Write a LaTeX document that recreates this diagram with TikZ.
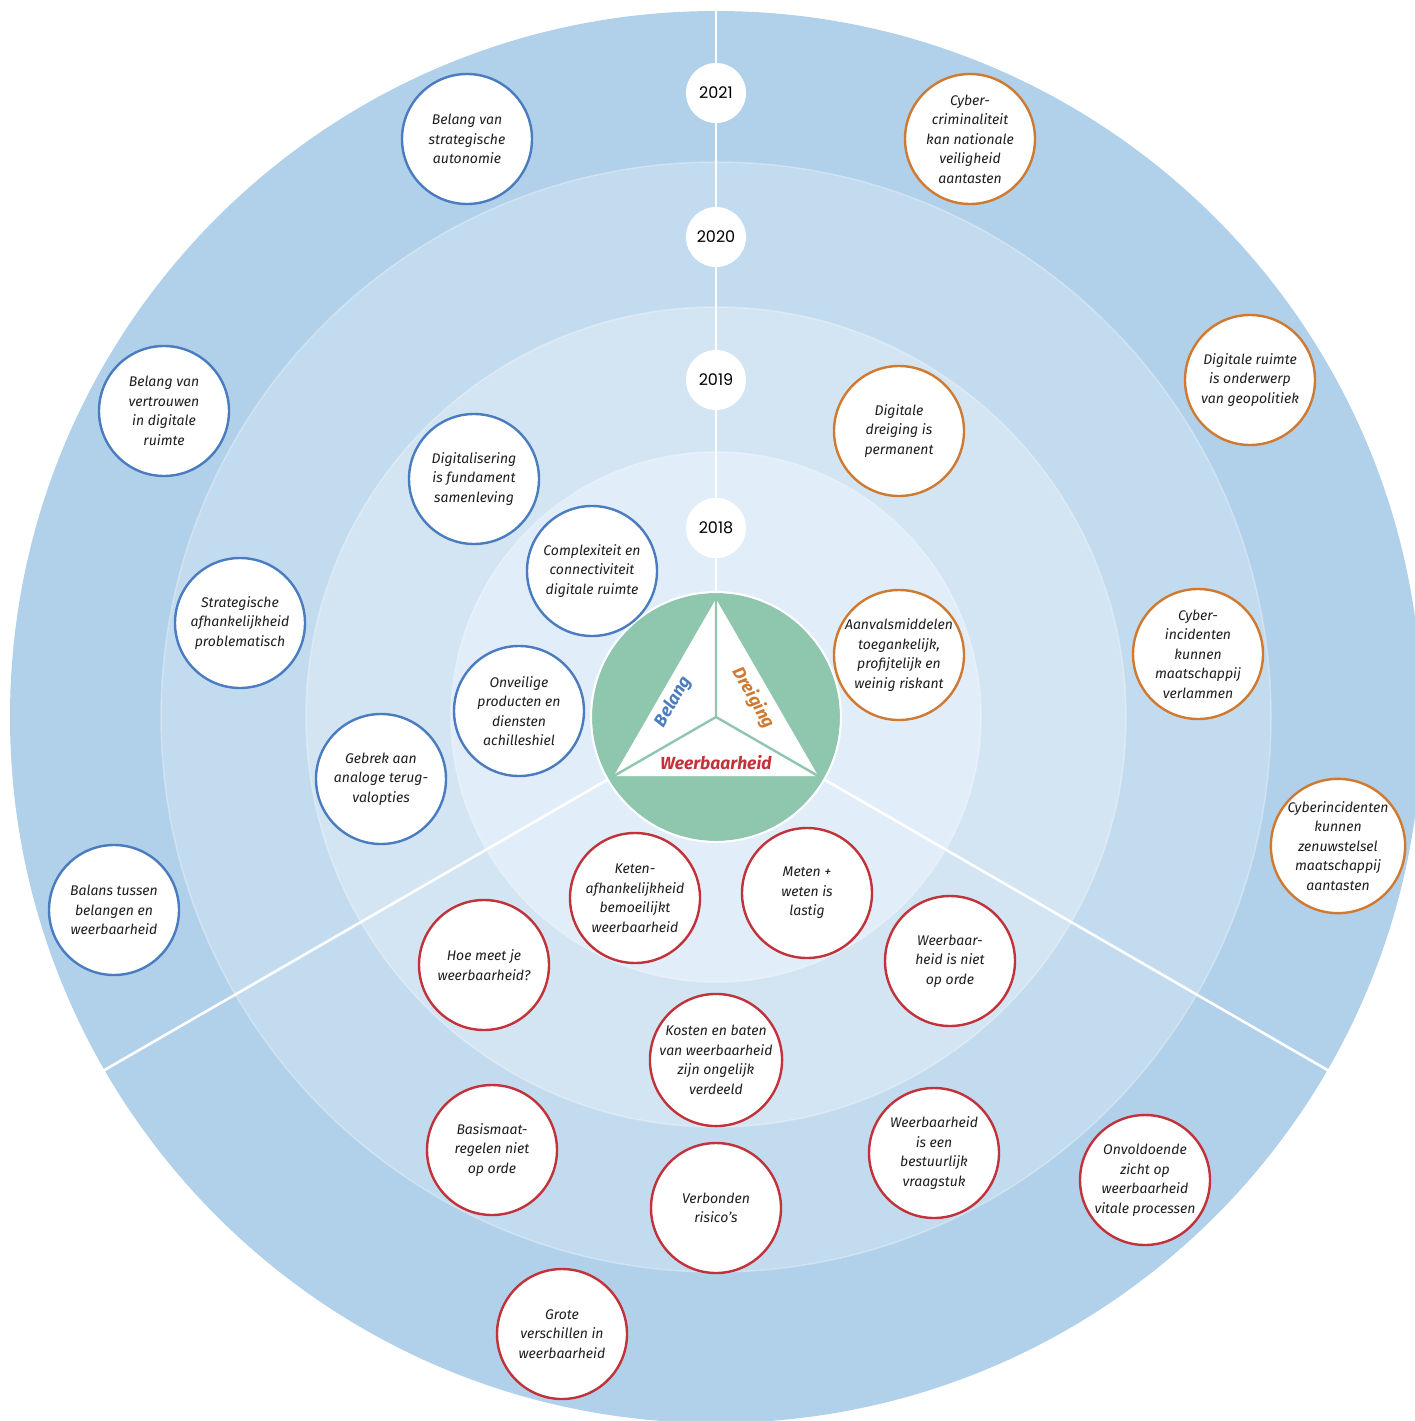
\documentclass[tikz,border=0pt]{standalone}
\usepackage{fontspec}
\setmainfont{Fira Sans}
\newfontfamily\jaarfont{Poppins}
\usetikzlibrary{positioning}

\definecolor{ringvier}{HTML}{B1D0E9}
\definecolor{ringdrie}{HTML}{C3DBEF}
\definecolor{ringtwee}{HTML}{D3E5F2}
\definecolor{ringeen}{HTML}{E1EDF8}
\definecolor{kerngroen}{HTML}{8FC6AE}
\definecolor{belangblauw}{HTML}{4A7CC0}
\definecolor{dreigingoranje}{HTML}{D07A31}
\definecolor{weerbaarrood}{HTML}{C1323A}
\definecolor{bubbeltekst}{HTML}{1E1E1E}

\tikzset{
  bubbel/.style={circle, draw, fill=white, line width=2.4pt, minimum size=130pt, inner sep=0pt, align=center, text=bubbeltekst, font=\itshape\fontsize{14}{19.5}\selectfont},
  belangbubbel/.style={bubbel, draw=belangblauw},
  dreigingbubbel/.style={bubbel, draw=dreigingoranje},
  weerbaarbubbel/.style={bubbel, draw=weerbaarrood},
  jaar/.style={circle, fill=white, minimum size=60pt, inner sep=0pt, text=black, font=\jaarfont\fontsize{16}{16}\selectfont},
  kernlabel/.style={inner sep=0pt, font=\bfseries\itshape\fontsize{17.5}{17.5}\selectfont},
}

\begin{document}
\begin{tikzpicture}[x=1pt,y=1pt,yscale=-1,xscale=1]
\useasboundingbox (0,0) rectangle (1415,1421);
\clip (0,0) rectangle (1415,1421);
\coordinate (c) at (716,717);

%Shape: Circle [rings]
\fill [ringvier] (c) circle (706);
\fill [ringdrie] (c) circle (555);
\fill [ringtwee] (c) circle (410);
\fill [ringeen] (c) circle (265);
\draw [white, opacity=0.3, line width=1.5] (c) circle (555) (c) circle (410) (c) circle (265);

%Shape: Lines [sectors]
\coordinate (boven) at (716,10);
\path (c) ++(270:124) coordinate (kb);
\path (c) ++(150:124) coordinate (kl) ++(150:584) coordinate (rl);
\path (c) ++(30:124) coordinate (kr) ++(30:584) coordinate (rr);
\draw [white, line width=2.6] (boven) -- (kb);
\draw [white, line width=2.6] (kl) -- (rl);
\draw [white, line width=2.6] (kr) -- (rr);

% Year Nodes
\node [jaar] (j2021) at (716,93) {2021};
\node [jaar] (j2020) at (716,237) {2020};
\node [jaar] (j2019) at (716,380) {2019};
\node [jaar] (j2018) at (716,528) {2018};

%Shape: Circle [kern]
\fill [kerngroen] (c) circle (124);
\draw [white, line width=2] (c) circle (125);
\coordinate (tt) at (716,599);
\coordinate (tl) at (613.8,776);
\coordinate (tr) at (818.2,776);
\fill [white, rounded corners=2] (tt) -- (tl) -- (tr) -- cycle;
\draw [kerngroen, line width=2.4] (tt) -- (c) -- (tl) (c) -- (tr);

% Text Node
\node [kernlabel, text=belangblauw, rotate=60] (belang) at (673,702) {Belang};
% Text Node
\node [kernlabel, text=dreigingoranje, rotate=-60] (dreiging) at (753,698) {Dreiging};
% Text Node
\node [kernlabel, text=weerbaarrood] (weerbaarheid) at (716,763) {Weerbaarheid};

% Belang
\node [belangbubbel] (autonomie) at (467,139) {Belang van\\strategische\\autonomie};
\node [belangbubbel] (vertrouwen) at (164,411) {Belang van\\vertrouwen\\in digitale\\ruimte};
\node [belangbubbel] (fundament) at (474,479) {Digitalisering\\is fundament\\samenleving};
\node [belangbubbel] (complexiteit) at (592,571) {Complexiteit en\\connectiviteit\\digitale ruimte};
\node [belangbubbel] (afhankelijkheid) at (240,623) {Strategische\\afhankelijkheid\\problematisch};
\node [belangbubbel] (onveilig) at (519,711) {Onveilige\\producten en\\diensten\\achilleshiel};
\node [belangbubbel] (analoog) at (381,779) {Gebrek aan\\analoge terug-\\valopties};
\node [belangbubbel] (balans) at (114,910) {Balans tussen\\belangen en\\weerbaarheid};

% Dreiging
\node [dreigingbubbel] (criminaliteit) at (970,139) {Cyber-\\criminaliteit\\kan nationale\\veiligheid\\aantasten};
\node [dreigingbubbel] (geopolitiek) at (1250,380) {Digitale ruimte\\is onderwerp\\van geopolitiek};
\node [dreigingbubbel] (permanent) at (899,431) {Digitale\\dreiging is\\permanent};
\node [dreigingbubbel] (aanvalsmiddelen) at (899,655) {Aanvalsmiddelen\\toegankelijk,\\profijtelijk en\\weinig riskant};
\node [dreigingbubbel] (verlammen) at (1198,654) {Cyber-\\incidenten\\kunnen\\maatschappij\\verlammen};
\node [dreigingbubbel] (zenuwstelsel) at (1338,846) {Cyberincidenten\\kunnen\\zenuwstelsel\\maatschappij\\aantasten};

% Weerbaarheid
\node [weerbaarbubbel] (keten) at (635,898) {Keten-\\afhankelijkheid\\bemoeilijkt\\weerbaarheid};
\node [weerbaarbubbel] (meten) at (807,893) {Meten +\\weten is\\lastig};
\node [weerbaarbubbel] (hoemeet) at (484,965) {Hoe meet je\\weerbaarheid?};
\node [weerbaarbubbel] (nietorde) at (950,961) {Weerbaar-\\heid is niet\\op orde};
\node [weerbaarbubbel] (kosten) at (716,1060) {Kosten en baten\\van weerbaarheid\\zijn ongelijk\\verdeeld};
\node [weerbaarbubbel] (basis) at (492,1150) {Basismaat-\\regelen niet\\op orde};
\node [weerbaarbubbel] (bestuurlijk) at (934,1153) {Weerbaarheid\\is een\\bestuurlijk\\vraagstuk};
\node [weerbaarbubbel] (vitaal) at (1145,1180) {Onvoldoende\\zicht op\\weerbaarheid\\vitale processen};
\node [weerbaarbubbel] (verbonden) at (716,1208) {Verbonden\\risico’s};
\node [weerbaarbubbel] (verschillen) at (562,1334) {Grote\\verschillen in\\weerbaarheid};

\end{tikzpicture}
\end{document}
